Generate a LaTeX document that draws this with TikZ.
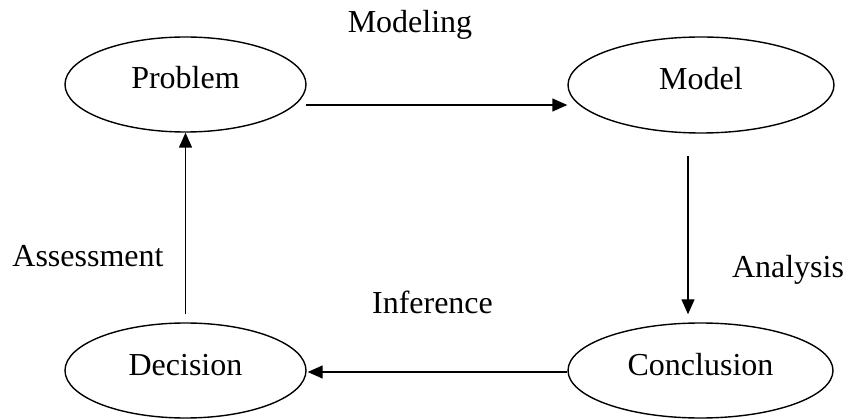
\documentclass[tikz,border=0pt]{standalone}
\usepackage{fontspec}
\setmainfont{Liberation Serif}
\usetikzlibrary{shapes.geometric,arrows.meta,calc}
\begin{document}
\begin{tikzpicture}[x=1pt,y=-1pt,
  stage/.style={ellipse,draw,line width=1.4pt,inner sep=0pt,
    text height=22pt,text depth=13pt,font=\fontsize{32}{38}\selectfont},
  lbl/.style={anchor=base,inner sep=0pt,font=\fontsize{32}{38}\selectfont},
  flow/.style={line width=1.4pt,-{Triangle[length=15pt,width=13pt]}}]
\useasboundingbox (0,0) rectangle (848,419);
\node[stage,minimum width=241pt,minimum height=95pt] (problem) at (185.5,84.5) {Problem};
\node[stage,minimum width=266pt,minimum height=96pt] (model) at (701,85) {Model};
\node[stage,minimum width=241pt,minimum height=95pt] (decision) at (185.5,370.5) {Decision};
\node[stage,minimum width=265pt,minimum height=95pt] (conclusion) at (700.5,370.5) {Conclusion};
\node[lbl] (modeling) at (410,33) {Modeling};
\node[lbl] (assessment) at (88,267) {Assessment};
\node[lbl] (analysis) at (788,278) {Analysis};
\node[lbl] (inference) at (432.5,314) {Inference};
\draw[flow] ($(problem.east)+(-1pt,-20.5pt)$) -- ($(model.west)+(0pt,-20pt)$);
\draw[flow] ($(model.south)+(-13pt,-22pt)$) -- ($(conclusion.north)+(-12.5pt,8pt)$);
\draw[flow] ($(conclusion.west)+(0pt,-1.5pt)$) -- ($(decision.east)+(1pt,-1.5pt)$);
\draw[flow] ($(decision.north)+(0pt,8pt)$) -- (problem.south);
\end{tikzpicture}
\end{document}
